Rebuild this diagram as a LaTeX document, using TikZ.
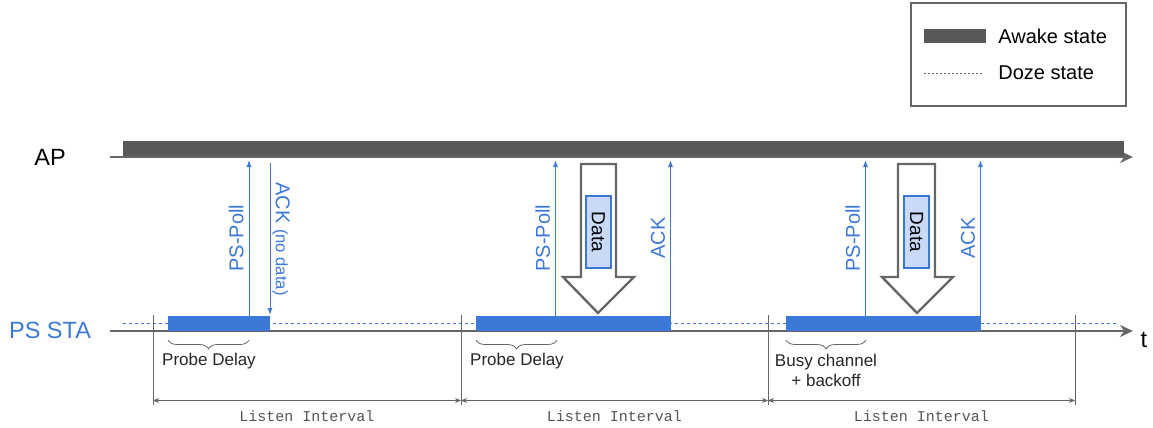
\documentclass[tikz,border=0pt]{standalone}
\usepackage{fontspec}
\setmainfont{Liberation Sans}
\setmonofont{Liberation Mono}
\usetikzlibrary{arrows.meta,decorations.pathreplacing}
\definecolor{awakegray}{HTML}{595959}
\definecolor{linegray}{HTML}{666666}
\definecolor{textgray}{HTML}{555555}
\definecolor{stablue}{HTML}{3C78D8}
\definecolor{datafill}{HTML}{C9DAF8}
\begin{document}
\begin{tikzpicture}[x=0.5pt,y=-0.5pt,
  lane/.style={font=\fontsize{11.75}{14}\selectfont},
  timeline/.style={draw=linegray,line width=1pt,-{Stealth[length=6.5pt,width=6pt]}},
  doze/.style={draw=stablue,line width=0.4pt,dash pattern=on 1.5pt off 1.5pt},
  msg/.style={draw=stablue,line width=0.5pt,-{Latex[length=3.5pt,width=2.5pt]}},
  msglbl/.style={text=stablue,font=\fontsize{10}{12}\selectfont,inner sep=2.5pt},
  bigarrow/.style={draw=linegray,line width=1.2pt,fill=white,line join=miter},
  databox/.style={draw=stablue,line width=0.8pt,fill=datafill,minimum width=36pt,minimum height=12.6pt,inner sep=0pt,font=\fontsize{9.5}{11}\selectfont,rotate=-90},
  tick/.style={draw=linegray,line width=0.5pt},
  span/.style={draw=linegray,line width=0.4pt,{Stealth[length=3pt,width=2.5pt]}-{Stealth[length=3pt,width=2.5pt]}},
  spanlbl/.style={font=\ttfamily\fontsize{7.5}{9}\selectfont,text=textgray,yshift=-8pt},
  curly/.style={draw=linegray,line width=0.4pt,decorate,decoration={brace,amplitude=4.5pt}},
  note/.style={font=\fontsize{8.5}{9.7}\selectfont,align=center,text=black!85}
]
\useasboundingbox (0,0) rectangle (1153,428);
% legend
\draw[linegray,line width=1pt] (911,3) rectangle (1126,106);
\fill[awakegray] (924,29) rectangle (986,43);
\draw[linegray,line width=0.4pt,dash pattern=on 1pt off 1pt] (924,73) -- (983,73);
\node[anchor=west,inner sep=0pt,font=\fontsize{10}{12}\selectfont] (awake) at (998,36) {Awake state};
\node[anchor=west,inner sep=0pt,font=\fontsize{10}{12}\selectfont] (dozing) at (998,72.5) {Doze state};
% lanes
\node[lane] (ap) at (50,157) {AP};
\node[lane,text=stablue] (sta) at (50,330) {PS STA};
\coordinate (apstart) at (110,157);
\coordinate (apend) at (1133,157);
\coordinate (stastart) at (110,331);
\coordinate (staend) at (1133,331);
\draw[timeline] (apstart) -- (apend);
\fill[awakegray] (123,141) rectangle (1124,156);
\draw[timeline] (stastart) -- (staend);
\node[lane] (t) at (1144,340) {t};
\draw[doze] (123,323) -- (1117,323);
\fill[stablue] (168,316) rectangle (269.5,331);
\fill[stablue] (476,316) rectangle (671,331);
\fill[stablue] (786,316) rectangle (981,331);
% messages
\coordinate (aplow) at (0,160);
\coordinate (apgap) at (0,163);
\coordinate (poll1) at (249,316);
\coordinate (ack1) at (270,315);
\coordinate (poll2) at (555.5,316);
\coordinate (ack2) at (670.5,316);
\coordinate (poll3) at (865.5,316);
\coordinate (ack3) at (980.5,316);
\draw[msg] (poll1) -- (poll1 |- aplow) node[midway,msglbl,rotate=90,anchor=south] {PS-Poll};
\draw[msg] (ack1 |- apgap) -- (ack1) node[midway,msglbl,rotate=-90,anchor=south,inner sep=1pt] {ACK {\fontsize{8.3}{10}\selectfont(no data)}};
\draw[msg] (poll2) -- (poll2 |- aplow) node[midway,msglbl,rotate=90,anchor=south] {PS-Poll};
\draw[msg] (ack2) -- (ack2 |- aplow) node[midway,msglbl,rotate=90,anchor=south] {ACK};
\draw[msg] (poll3) -- (poll3 |- aplow) node[midway,msglbl,rotate=90,anchor=south] {PS-Poll};
\draw[msg] (ack3) -- (ack3 |- aplow) node[midway,msglbl,rotate=90,anchor=south] {ACK};
% data frames
\draw[bigarrow] (581,164) -- (616,164) -- (616,277) -- (634,277) -- (598,313) -- (563,277) -- (581,277) -- cycle;
\node[databox] (data1) at (598.3,232) {Data};
\draw[bigarrow] (898,164) -- (935,164) -- (935,277) -- (953,277) -- (917,313) -- (882,277) -- (898,277) -- cycle;
\node[databox] (data2) at (916.5,232) {Data};
% delays
\draw[curly] (249,340) -- (168,340);
\node[note] (probe1) at (209,361) {Probe Delay};
\draw[curly] (557,340) -- (476,340);
\node[note] (probe2) at (517,361) {Probe Delay};
\draw[curly] (866,340) -- (786,340);
\node[note] (busy) at (826,370.5) {Busy channel\\+ backoff};
% listen intervals
\coordinate (spany) at (0,400.5);
\coordinate (li0) at (153,315);
\coordinate (li1) at (461,315);
\coordinate (li2) at (768,315);
\coordinate (li3) at (1075,315);
\draw[tick] (li0) -- ++(0,90);
\draw[tick] (li1) -- ++(0,90);
\draw[tick] (li2) -- ++(0,90);
\draw[tick] (li3) -- ++(0,90);
\draw[span] (li0 |- spany) -- (li1 |- spany) node[midway,spanlbl] {Listen Interval};
\draw[span] (li1 |- spany) -- (li2 |- spany) node[midway,spanlbl] {Listen Interval};
\draw[span] (li2 |- spany) -- (li3 |- spany) node[midway,spanlbl] {Listen Interval};
\end{tikzpicture}
\end{document}
